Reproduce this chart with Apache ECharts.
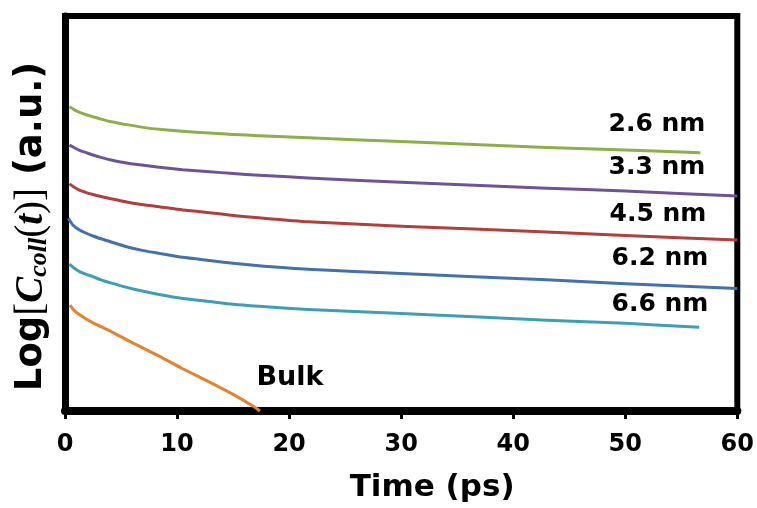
<!DOCTYPE html>
<html>
<head>
<meta charset="utf-8">
<script src="https://cdn.jsdelivr.net/npm/echarts@6/dist/echarts.min.js"></script>
<style>
  html, body { margin: 0; padding: 0; background: #fff; }
  #chart { width: 757px; height: 508px; }
</style>
</head>
<body>
<div id="chart"></div>
<script>
// Collective correlation decay vs. time for water confined in pores of different size
const xTicks = [0, 10, 20, 30, 40, 50, 60];

const t26 = [0.4, 0.8, 1.3, 1.9, 2.5, 3.2, 4.0, 5.5, 7.0, 8.4, 10.5, 12.9, 15.0, 17.3, 21.7, 30, 43, 50, 56.7];
const v26 = [77.0, 76.3, 75.6, 75.0, 74.5, 73.9, 73.3, 72.5, 71.8, 71.3, 70.8, 70.4, 70.0, 69.7, 69.2, 68.2, 66.7, 66.1, 65.4];

const t33 = [0.4, 0.8, 1.3, 1.9, 2.5, 3.2, 4.0, 5.5, 7.0, 8.4, 10.5, 12.9, 15.0, 17.3, 21.7, 30, 43, 50, 60];
const v33 = [67.3, 66.7, 66.0, 65.4, 64.8, 64.2, 63.6, 62.8, 62.2, 61.7, 61.1, 60.6, 60.1, 59.7, 59.0, 57.9, 56.4, 55.7, 54.4];

const t45 = [0.4, 0.8, 1.3, 1.9, 2.5, 3.2, 4.0, 5.5, 7.0, 8.4, 10.5, 12.9, 15.0, 17.3, 21.7, 30, 43, 50, 60];
const v45 = [57.5, 56.7, 55.9, 55.3, 54.8, 54.3, 53.8, 52.9, 52.2, 51.7, 50.9, 50.2, 49.5, 48.9, 47.9, 46.8, 45.3, 44.4, 43.3];

const t62 = [0.3, 0.7, 1.3, 1.9, 2.5, 3.2, 4.0, 5.5, 7.0, 8.4, 10.5, 12.9, 15.0, 17.3, 21.7, 30, 43, 50, 60];
const v62 = [48.8, 47.1, 45.8, 45.0, 44.3, 43.6, 42.9, 41.6, 40.6, 39.9, 38.9, 38.1, 37.4, 36.8, 35.9, 34.8, 33.2, 32.2, 31.0];

const t66 = [0.4, 0.8, 1.3, 1.9, 2.5, 3.2, 4.0, 5.5, 7.0, 8.4, 10.5, 12.9, 15.0, 17.3, 21.7, 30, 43, 50, 56.6];
const v66 = [37.2, 36.2, 35.3, 34.6, 34.0, 33.2, 32.5, 31.3, 30.3, 29.5, 28.5, 27.7, 27.0, 26.5, 25.7, 24.7, 23.0, 22.2, 21.2];

const tBulk = [0.44, 0.8, 1.33, 2.5, 4.0, 6.0, 8.4, 10.5, 12.9, 15.0, 16.8, 17.4];
const vBulk = [26.8, 25.5, 24.3, 22.3, 20.3, 17.3, 13.9, 10.7, 7.3, 4.2, 1.2, 0.0];

const seriesNames = ['2.6 nm', '3.3 nm', '4.5 nm', '6.2 nm', '6.6 nm', 'Bulk'];
const seriesT = [t26, t33, t45, t62, t66, tBulk];
const seriesV = [v26, v33, v45, v62, v66, vBulk];
const colors = ['#8CAE4B', '#6E5497', '#B0403D', '#4471AC', '#3E9EB6', '#E3832F'];

// where each curve's name sits, in pixels (centre of text)
const labelPos = [[657, 124], [657, 167], [658, 214], [660, 258], [660, 304], [290, 378]];

const FONT = "'DejaVu Sans', sans-serif";
const SERIF = "'Liberation Serif', 'DejaVu Serif', serif";

const chart = echarts.init(document.getElementById('chart'), null, { renderer: 'canvas' });

const series = seriesNames.map((name, i) => ({
  name: name,
  type: 'line',
  data: seriesT[i].map((t, k) => [t, seriesV[i][k]]),
  smooth: 0.2,
  showSymbol: false,
  clip: true,
  lineStyle: { color: colors[i], width: 3, join: 'round' },
  itemStyle: { color: colors[i] },
  z: 3
}));

const graphic = seriesNames.map((name, i) => ({
  type: 'text',
  x: labelPos[i][0],
  y: labelPos[i][1],
  z: 10,
  style: {
    text: name,
    fill: '#000',
    font: 'bold ' + (name === 'Bulk' ? 27 : 25) + 'px ' + FONT,
    textAlign: 'center',
    textVerticalAlign: 'middle'
  }
}));

chart.setOption({
  animation: false,
  backgroundColor: '#fff',
  grid: {
    left: 65, right: 15, top: 16, bottom: 97,
    show: true,
    borderColor: '#000',
    borderWidth: 6,
    backgroundColor: 'transparent'
  },
  xAxis: {
    type: 'value',
    min: xTicks[0],
    max: xTicks[xTicks.length - 1],
    interval: 10,
    name: 'Time (ps)',
    nameLocation: 'middle',
    nameGap: 61,
    nameTextStyle: {
      fontFamily: FONT, fontWeight: 'bold', fontSize: 31, color: '#000',
      padding: [0, 0, 0, 62]
    },
    axisLine: { show: true, lineStyle: { color: '#000', width: 8 } },
    axisTick: { show: true, inside: false, length: 8, lineStyle: { color: '#000', width: 3 } },
    axisLabel: {
      fontFamily: FONT, fontWeight: 'bold', fontSize: 24, color: '#000', margin: 22,
      formatter: v => String(v)
    },
    splitLine: { show: false }
  },
  yAxis: {
    type: 'value',
    min: 0,
    max: 100,
    name: '{a|Log}{b|[}{m|C}{s|coll}{b|(}{m|t}{b|)]}{a| (a.u.)}',
    nameLocation: 'middle',
    nameRotate: 90,
    nameGap: 13,
    nameTextStyle: {
      color: '#000',
      padding: [0, 26, 0, 0],
      rich: {
        a: { fontFamily: FONT, fontWeight: 'bold', fontSize: 37, color: '#000' },
        b: { fontFamily: SERIF, fontWeight: 'normal', fontSize: 39, color: '#000' },
        m: { fontFamily: SERIF, fontWeight: 'bold', fontStyle: 'italic', fontSize: 39, color: '#000' },
        s: { fontFamily: SERIF, fontWeight: 'bold', fontStyle: 'italic', fontSize: 26, color: '#000', verticalAlign: 'bottom', padding: [15, 0, 0, 0] }
      }
    },
    axisLine: { show: true, lineStyle: { color: '#000', width: 7 } },
    axisTick: { show: false },
    axisLabel: { show: false },
    splitLine: { show: false }
  },
  series: series,
  graphic: graphic
});
</script>
</body>
</html>
